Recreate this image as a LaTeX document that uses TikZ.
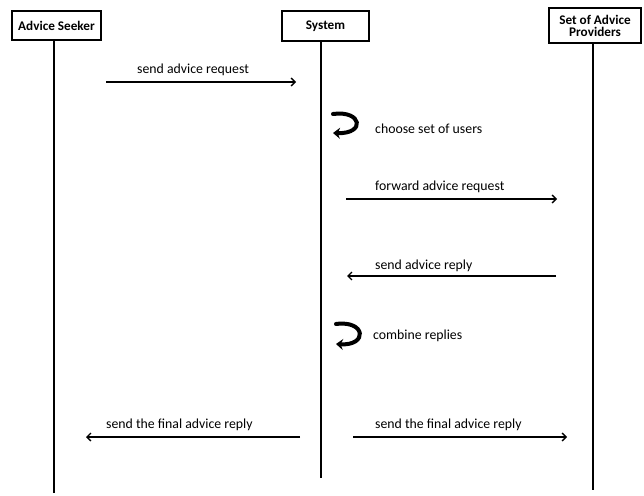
\documentclass[tikz,border=0pt]{standalone}
\usepackage{fontspec}
\setmainfont{Carlito}
\usetikzlibrary{arrows.meta}
\begin{document}
\begin{tikzpicture}[x=1pt,y=-1pt,
  actor/.style={draw,line width=1.4pt,font=\fontsize{13.2}{14}\selectfont\bfseries,inner sep=0pt,align=center},
  life/.style={line width=1.2pt},
  msg/.style={line width=1.3pt,-{Straight Barb[length=4pt,width=8pt,line width=1.3pt]}},
  lbl/.style={font=\fontsize{13.8}{15}\selectfont,inner sep=0pt,anchor=west},
  selfloop/.style={line width=4pt,line cap=round,-{Stealth[length=7pt,width=11pt]}}]
\useasboundingbox (0,0) rectangle (644,495);
% actors
\node[actor,minimum width=89pt,minimum height=29pt] (seeker) at (56.5,25.5) {Advice Seeker};
\node[actor,minimum width=87pt,minimum height=30pt] (system) at (325.5,26) {System};
\node[actor,minimum width=92pt,minimum height=35pt] (prov) at (595,25.5) {Set of Advice\\[-2pt]Providers};
% lifeline ends
\coordinate (seekerEnd) at (54,493);
\coordinate (systemEnd) at (321,478);
\coordinate (provEnd) at (593,490);
\draw[life] (seeker.south -| seekerEnd) -- (seekerEnd);
\draw[life] (system.south -| systemEnd) -- (systemEnd);
\draw[life] (prov.south -| provEnd) -- (provEnd);
% message end points
\coordinate (m1a) at (106,82);  \coordinate (m1b) at (296,82);
\coordinate (m3a) at (346,199); \coordinate (m3b) at (557,199);
\coordinate (m4a) at (556,276); \coordinate (m4b) at (347,276);
\coordinate (m6a) at (300,437); \coordinate (m6b) at (86,437);
\coordinate (m7a) at (353,437); \coordinate (m7b) at (567,437);
\draw[msg] (m1a) -- (m1b);
\draw[msg] (m3a) -- (m3b);
\draw[msg] (m4a) -- (m4b);
\draw[msg] (m6a) -- (m6b);
\draw[msg] (m7a) -- (m7b);
\node[lbl] (l1) at (137,70) {send advice request};
\node[lbl] (l3) at (375,187) {forward advice request};
\node[lbl] (l4) at (375,266) {send advice reply};
\node[lbl] (l6) at (106,425) {send the final advice reply};
\node[lbl] (l7) at (375,425) {send the final advice reply};
% self loops
\coordinate (s1a) at (333,114); \coordinate (s1b) at (333,133);
\coordinate (s2a) at (336,324); \coordinate (s2b) at (336,344);
\draw[selfloop] (s1a) .. controls (362,110) and (366,134) .. (s1b);
\draw[selfloop] (s2a) .. controls (366,320) and (368,346) .. (s2b);
\node[lbl] (l2) at (375,129) {choose set of users};
\node[lbl] (l5) at (373,336) {combine replies};
\end{tikzpicture}
\end{document}
